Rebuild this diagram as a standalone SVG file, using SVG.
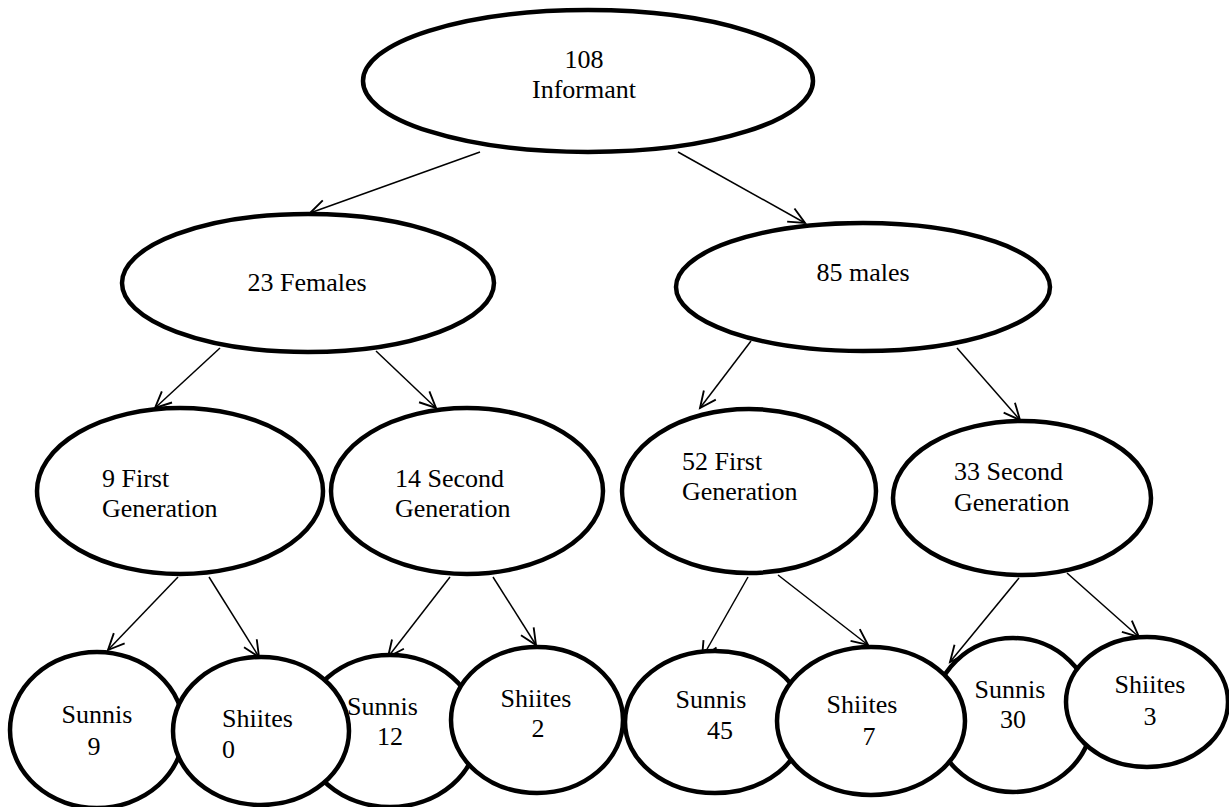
<svg xmlns="http://www.w3.org/2000/svg" width="1229" height="807" viewBox="0 0 1229 807">
<defs>
<marker id="ah" markerUnits="userSpaceOnUse" markerWidth="20" markerHeight="20" refX="0" refY="0" viewBox="-14 -8 16 16" orient="auto" overflow="visible">
<path d="M-13,-6 L0,0 L-13,6" fill="none" stroke="#000" stroke-width="1.5"/>
</marker>
</defs>
<style>
ellipse{fill:#fff;stroke:#000;stroke-width:4.5}
text{font-size:26px;fill:#000}
.m{text-anchor:middle}
#connectors line{stroke:#000;stroke-width:1.5;marker-end:url(#ah)}
</style>
<rect width="1229" height="807" fill="#fff"/>
<g id="connectors">
<line x1="480" y1="152" x2="310" y2="213"/>
<line x1="678" y1="152" x2="805" y2="223"/>
<line x1="220" y1="348" x2="155" y2="408"/>
<line x1="376" y1="351" x2="436" y2="408"/>
<line x1="751" y1="341" x2="700" y2="408"/>
<line x1="957" y1="348" x2="1020" y2="420"/>
<line x1="178" y1="577" x2="108" y2="650"/>
<line x1="209" y1="577" x2="259" y2="657"/>
<line x1="450" y1="577" x2="388" y2="657"/>
<line x1="493" y1="577" x2="536" y2="645"/>
<line x1="748" y1="577" x2="702" y2="658"/>
<line x1="778" y1="575" x2="868" y2="645"/>
<line x1="1019" y1="578" x2="950" y2="662"/>
<line x1="1067" y1="573" x2="1139" y2="637"/>
</g>
<g font-family="'Liberation Serif', 'Times New Roman', 'DejaVu Serif', serif">
<g id="n-informant"><ellipse cx="588" cy="81" rx="225" ry="71"/><text class="m" x="584" y="68">108</text><text class="m" x="584" y="98">Informant</text></g>
<g id="n-females"><ellipse cx="308" cy="283" rx="186" ry="69"/><text class="m" x="307" y="291">23 Females</text></g>
<g id="n-males"><ellipse cx="863" cy="287" rx="187" ry="64"/><text class="m" x="863" y="281">85 males</text></g>
<g id="n-f-first"><ellipse cx="180" cy="491" rx="143" ry="83"/><text x="102" y="487">9 First</text><text x="102" y="517">Generation</text></g>
<g id="n-f-second"><ellipse cx="467" cy="491" rx="136" ry="83"/><text x="395" y="487">14 Second</text><text x="395" y="517">Generation</text></g>
<g id="n-m-first"><ellipse cx="749" cy="491" rx="127" ry="82"/><text x="682" y="470">52 First</text><text x="682" y="500">Generation</text></g>
<g id="n-m-second"><ellipse cx="1022" cy="498" rx="129" ry="77"/><text x="954" y="480">33 Second</text><text x="954" y="511">Generation</text></g>
<g id="n-sunnis9"><ellipse cx="97" cy="730" rx="87" ry="78"/></g>
<g id="n-sunnis12"><ellipse cx="390" cy="731" rx="88" ry="76"/></g>
<g id="n-sunnis45"><ellipse cx="715" cy="722" rx="90" ry="71"/></g>
<g id="n-sunnis30"><ellipse cx="1013" cy="715" rx="80" ry="77"/></g>
<g id="n-shiites0"><ellipse cx="261" cy="731" rx="88" ry="74"/></g>
<g id="n-shiites2"><ellipse cx="537" cy="720" rx="86" ry="73"/></g>
<g id="n-shiites7"><ellipse cx="871" cy="721" rx="94" ry="74"/></g>
<g id="n-shiites3"><ellipse cx="1147" cy="702" rx="81" ry="65"/></g>
<g id="labels-bottom">
<text class="m" x="97" y="723">Sunnis</text><text class="m" x="94" y="755">9</text>
<text x="222" y="727">Shiites</text><text x="222" y="758">0</text>
<text x="347" y="715">Sunnis</text><text class="m" x="390" y="745">12</text>
<text class="m" x="536" y="707">Shiites</text><text class="m" x="538" y="737">2</text>
<text class="m" x="711" y="708">Sunnis</text><text class="m" x="720" y="739">45</text>
<text class="m" x="862" y="713">Shiites</text><text class="m" x="869" y="745">7</text>
<text class="m" x="1010" y="698">Sunnis</text><text class="m" x="1013" y="728">30</text>
<text class="m" x="1150" y="693">Shiites</text><text class="m" x="1150" y="725">3</text>
</g>
</g>
</svg>
